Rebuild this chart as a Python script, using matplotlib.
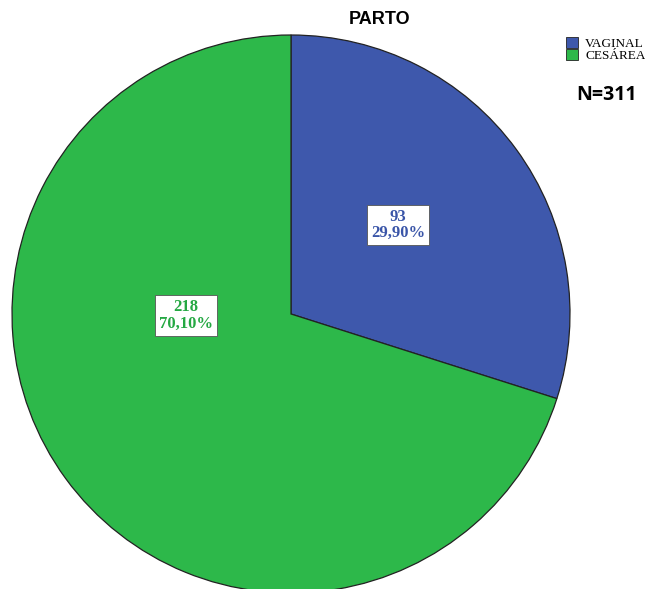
import numpy as np
import matplotlib.pyplot as plt
from matplotlib.patches import Patch

# Data
categories = ['VAGINAL', 'CESÁREA']
counts = [93, 218]
pct_labels = ['29,90%', '70,10%']
colors = ['#3e58ac', '#2db84a']
text_colors = ['#3a55a8', '#25a843']

fig = plt.figure(figsize=(6.45, 5.89), dpi=100)
ax = fig.add_axes([0, 0, 1, 1])

# pie centre at pixel (291, 314), radius 279 px
r_px = 279.0
cx, cy = 291.0, 314.0

ax.pie(counts, colors=colors, startangle=90, counterclock=False,
       radius=1.0, center=(0, 0), frame=True,
       wedgeprops=dict(edgecolor='#222222', linewidth=0.9))
ax.set_xlim(-cx / r_px, (645 - cx) / r_px)
ax.set_ylim(-(589 - cy) / r_px, cy / r_px)
ax.set_aspect('auto')
ax.axis('off')

# label placement (distance, angle in degrees) as SPSS put them
label_pos = [(0.499, 39.8), (0.376, 180.8)]
for n, p, tc, (d, a) in zip(counts, pct_labels, text_colors, label_pos):
    x = d * np.cos(np.radians(a))
    y = d * np.sin(np.radians(a))
    ax.text(x, y, f'{n}\n{p}', ha='center', va='center', color=tc,
            family='Liberation Serif', fontweight='bold', fontsize=12,
            linespacing=1.0,
            bbox=dict(boxstyle='square,pad=0.25', fc='white', ec='#555555', lw=0.6))

fig.text(380 / 645, 1 - 20 / 589, 'PARTO', ha='center', va='center',
         family='Liberation Sans', fontweight='bold', fontsize=13)

handles = [Patch(facecolor=c, edgecolor='#222222', linewidth=0.6) for c in colors]
fig.legend(handles, categories, loc='upper left', bbox_to_anchor=(566 / 645, 1 - 37 / 589),
           frameon=False, prop={'family': 'Liberation Serif', 'size': 9.5},
           handlelength=0.9, handleheight=0.9, handletextpad=0.55,
           labelspacing=-0.1, borderpad=0, borderaxespad=0)

fig.text(606 / 645, 1 - 95 / 589, 'N=311', ha='center', va='center',
         family='Open Sans', fontweight='bold', fontsize=14)

fig.savefig('out.png', dpi=100)
